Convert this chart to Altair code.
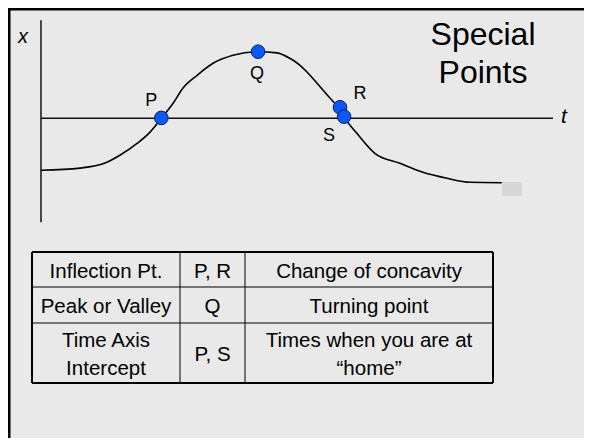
import altair as alt
import pandas as pd

# ---- data (t in time units, x in position units) ----
curve_t = [0.00, 0.76, 1.25, 1.54, 1.87, 2.13, 2.35, 2.58, 2.77, 3.05, 3.36, 3.75, 4.24,
           4.61, 4.86, 5.06, 5.20, 5.51, 5.74, 5.84, 5.93, 6.17, 6.52, 7.01, 7.46, 7.93,
           8.38, 9.00]
curve_x = [-2.60, -2.49, -2.24, -1.85, -1.27, -0.69, 0.00, 0.75, 1.50, 2.15, 2.75, 3.15, 3.33,
           3.27, 3.00, 2.65, 2.30, 1.40, 0.75, 0.50, 0.05, -0.75, -1.75, -2.25, -2.70, -3.00,
           -3.20, -3.22]

point_names = ["P", "Q", "R", "S"]
point_t = [2.35, 4.24, 5.84, 5.92]
point_x = [0.02, 3.33, 0.55, 0.08]

axis_t_end = 10.0
axis_x_top = 4.9
axis_x_bottom = -5.2

title_lines = ["Special", "Points"]
table_cells = [
    ["Inflection Pt.", "P, R", "Change of concavity"],
    ["Peak or Valley", "Q", "Turning point"],
    ["Time Axis\nIntercept", "P, S", "Times when you are at\n\u201chome\u201d"],
]

# ---- layout / style ----
W, H = 576, 430
FONT = "Liberation Sans"
BG = "#e9e9e9"
BLUE = "#0a58ff"

curve_df = pd.DataFrame({"t": curve_t, "x": curve_x})
pts_df = pd.DataFrame({"name": point_names, "t": point_t, "x": point_x})
haxis_df = pd.DataFrame({"t": [0.0], "t2": [axis_t_end], "x": [0.0]})
vaxis_df = pd.DataFrame({"t": [0.0], "x": [axis_x_top], "x2": [axis_x_bottom]})
one = pd.DataFrame({"a": [0]})

# origin of the t/x axes at (33, 110.3) px in the plot; 51.2 px per t unit, 20 px per x unit
OX, OY, KX, KY = 33.0, 110.3, 51.2, 20.0
xs = alt.Scale(domain=[-OX / KX, (W - OX) / KX], nice=False, zero=False)
ys = alt.Scale(domain=[(OY - H) / KY, OY / KY], nice=False, zero=False)


def X(f="t"):
    return alt.X(f + ":Q", scale=xs, axis=None)


def Y(f="x"):
    return alt.Y(f + ":Q", scale=ys, axis=None)


def txt(s, x, y, size, **kw):
    return alt.Chart(one).mark_text(text=s, fontSize=size, font=FONT, color="black", **kw).encode(
        x=alt.value(x), y=alt.value(y))


def rule(x1, y1, x2, y2, w, color="black"):
    return alt.Chart(one).mark_rule(color=color, strokeWidth=w).encode(
        x=alt.value(x1), x2=alt.value(x2), y=alt.value(y1), y2=alt.value(y2))


layers = []

# curve
layers.append(alt.Chart(curve_df).mark_line(color="black", strokeWidth=1.6, interpolate="monotone").encode(
    x=X(), y=Y(), order="t:Q"))

# axes
layers.append(alt.Chart(haxis_df).mark_rule(color="#111", strokeWidth=1.5).encode(
    x=X(), x2="t2:Q", y=Y()))
layers.append(alt.Chart(vaxis_df).mark_rule(color="#111", strokeWidth=1.5).encode(
    x=X(), y=Y(), y2="x2:Q"))

# slide frame
layers.append(rule(1, 0, 1, H, 3))
layers.append(rule(0, 1, W, 1, 3))

# small gray square at end of curve
layers.append(rule(494, 181, 514, 181, 14, color="#d7d7d7"))

# points
layers.append(alt.Chart(pts_df).mark_point(filled=True, shape="circle", size=185, fill=BLUE,
                                           stroke="#0d1d4d", strokeWidth=1, opacity=1).encode(
    x=X(), y=Y()))

# point labels
offsets = {"P": (-10, -17), "Q": (-1, 22), "R": (20, -13), "S": (-15, 19)}
for n in point_names:
    dx, dy = offsets[n]
    layers.append(alt.Chart(pts_df).transform_filter(alt.datum.name == n).mark_text(
        fontSize=18, font=FONT, color="black", dx=dx, dy=dy, baseline="middle").encode(
        x=X(), y=Y(), text="name:N"))

# axis letters
layers.append(txt("x", 15, 29, 20, fontStyle="italic", baseline="middle"))
layers.append(txt("t", 556, 109, 21, fontStyle="italic", baseline="middle"))

# title
layers.append(txt(title_lines[0], 475, 37, 32, align="center", baseline="alphabetic"))
layers.append(txt(title_lines[1], 475, 75, 32, align="center", baseline="alphabetic"))

# table
tx = [24, 172, 237, 485]
ty = [244, 279, 315, 375]
for yy in ty[1:-1]:
    layers.append(rule(tx[0], yy, tx[-1], yy, 1))
for xx in tx[1:-1]:
    layers.append(rule(xx, ty[0], xx, ty[-1], 1))
layers.append(rule(tx[0], ty[0], tx[-1], ty[0], 2))
layers.append(rule(tx[0], ty[-1], tx[-1], ty[-1], 2))
layers.append(rule(tx[0], ty[0], tx[0], ty[-1], 2))
layers.append(rule(tx[-1], ty[0], tx[-1], ty[-1], 2))

LH = 28
for r, row in enumerate(table_cells):
    cy = (ty[r] + ty[r + 1]) / 2
    for c, s in enumerate(row):
        cx = (tx[c] + tx[c + 1]) / 2
        n_lines = s.count("\n") + 1
        layers.append(txt(s, cx, cy + 2 - (n_lines - 1) * LH / 2, 20.5, align="center",
                          baseline="middle", lineBreak="\n", lineHeight=LH))

chart = alt.layer(*layers).properties(
    width=W, height=H, background=BG, padding=0, autosize="none"
).configure_view(stroke="transparent", strokeWidth=0)

chart.save("out.html", embed_options={"renderer": "svg", "actions": False})
